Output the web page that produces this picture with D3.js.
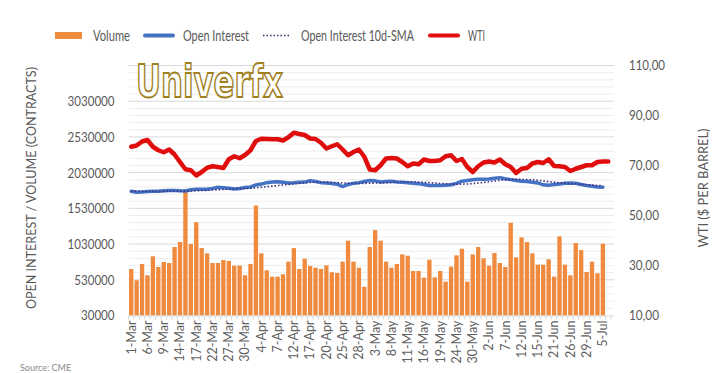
<!DOCTYPE html>
<html>
<head>
<meta charset="utf-8">
<script src="https://cdn.jsdelivr.net/npm/d3@7"></script>
<style>
  html, body { margin: 0; padding: 0; background: #fff; }
  svg { display: block; }
  text { font-family: Lato, "Liberation Sans", sans-serif; fill: #595959; }
</style>
</head>
<body>
<div id="chart"></div>
<script>
// trading days shown on the category axis
const categories = [
  "1-Mar","2-Mar","3-Mar","6-Mar","7-Mar","8-Mar","9-Mar","10-Mar","13-Mar","14-Mar","15-Mar","16-Mar","17-Mar",
  "20-Mar","21-Mar","22-Mar","23-Mar","24-Mar","27-Mar","28-Mar","29-Mar","30-Mar","31-Mar",
  "3-Apr","4-Apr","5-Apr","6-Apr","7-Apr","10-Apr","11-Apr","12-Apr","13-Apr","14-Apr","17-Apr","18-Apr",
  "19-Apr","20-Apr","21-Apr","24-Apr","25-Apr","26-Apr","27-Apr","28-Apr",
  "1-May","2-May","3-May","4-May","5-May","8-May","9-May","10-May","11-May","12-May","15-May","16-May",
  "17-May","18-May","19-May","22-May","23-May","24-May","25-May","26-May","30-May","31-May",
  "1-Jun","2-Jun","5-Jun","6-Jun","7-Jun","8-Jun","9-Jun","12-Jun","13-Jun","14-Jun","15-Jun","16-Jun",
  "20-Jun","21-Jun","22-Jun","23-Jun","26-Jun","27-Jun","28-Jun","29-Jun","30-Jun",
  "3-Jul","5-Jul","6-Jul"
]
const volume = [
  681000,523000,751000,593000,858000,709000,779000,765000,988000,1058000,1760000,1030000,1337000,
  974000,900000,765000,765000,807000,793000,728000,728000,593000,751000,
  1570000,900000,662000,574000,574000,607000,784000,974000,681000,825000,723000,700000,
  681000,732000,635000,625000,784000,1077000,784000,700000,
  430000,988000,1225000,1077000,784000,700000,751000,886000,867000,653000,653000,560000,
  811000,565000,653000,504000,714000,872000,965000,504000,886000,988000,
  830000,728000,904000,765000,709000,1328000,844000,1123000,1058000,900000,742000,742000,
  816000,574000,1137000,742000,593000,1044000,946000,639000,784000,
  621000,1035000
]
const openInterest = [
  1770000,1756000,1760000,1765000,1768000,1770000,1775000,1780000,1780000,1775000,1772000,1790000,1797000,
  1797000,1797000,1810000,1825000,1818000,1812000,1800000,1808000,1822000,1830000,
  1858000,1870000,1890000,1900000,1902000,1895000,1886000,1888000,1895000,1898000,1918000,1905000,
  1890000,1886000,1878000,1868000,1835000,1865000,1880000,1890000,
  1905000,1920000,1915000,1900000,1905000,1908000,1900000,1895000,1888000,1882000,1876000,1865000,
  1850000,1850000,1849000,1855000,1860000,1880000,1910000,1920000,1930000,1937000,
  1937000,1940000,1950000,1960000,1945000,1932000,1920000,1909000,1905000,1895000,1886000,1860000,
  1855000,1863000,1870000,1880000,1885000,1881000,1865000,1850000,1839000,
  1828000,1825000
]
const openInterestSma = [
  1770000,1768000,1766000,1765000,1765000,1766000,1767000,1769000,1770000,1770000,1770000,1772000,1776000,
  1779000,1782000,1786000,1791000,1795000,1799000,1802000,1806000,1809000,1812000,
  1818000,1825000,1833000,1841000,1850000,1858000,1866000,1873000,1880000,1887000,1893000,1897000,
  1896000,1895000,1893000,1890000,1885000,1882000,1880000,1879000,
  1880000,1882000,1884000,1886000,1889000,1893000,1900000,1903000,1903000,1903000,1900000,1896000,
  1890000,1885000,1879000,1874000,1869000,1867000,1869000,1872000,1877000,1884000,
  1893000,1902000,1912000,1923000,1930000,1935000,1936000,1935000,1933000,1929000,1923000,1914000,
  1904000,1895000,1888000,1880000,1876000,1874000,1866000,1860000,1855000,
  1850000,1846000
]
const wti = [
  77.5,78.0,79.6,80.2,77.5,76.1,75.3,76.4,74.4,71.4,68.5,68.1,66.0,
  67.4,69.1,69.7,69.4,69.0,72.5,73.7,72.9,74.2,76.1,
  79.8,80.7,80.6,80.5,80.5,80.0,81.3,83.1,82.6,82.2,80.8,80.6,
  79.1,76.8,77.7,78.5,76.4,74.1,75.4,76.4,
  73.5,68.4,68.1,70.1,72.8,73.0,72.8,71.4,69.7,70.8,70.5,72.4,
  71.8,71.8,72.1,73.7,74.1,71.8,72.6,69.4,67.4,69.7,
  71.2,71.6,71.2,72.4,70.5,69.4,67.0,68.7,69.0,70.8,71.4,71.0,
  72.5,69.8,69.7,69.4,67.8,68.7,69.4,70.1,70.1,
  71.4,71.6,71.6
]
const leftTicks = [30000, 530000, 1030000, 1530000, 2030000, 2530000, 3030000]
const rightTicks = [10, 30, 50, 70, 90, 110]

const W = 720, H = 373
const plot = { left: 128.5, right: 611, top: 65.5, bottom: 315.5 }

const svg = d3.select("#chart")
  .append("svg")
  .attr("width", W)
  .attr("height", H)

const x = d3.scaleBand()
  .domain(categories)
  .range([plot.left, plot.right])
  .paddingInner(0.2)
  .paddingOuter(0.1)
const yLeft = d3.scaleLinear().domain([30000, 3530000]).range([plot.bottom, plot.top])
const yRight = d3.scaleLinear().domain([10, 110]).range([plot.bottom, plot.top])
const cx = d => x(d) + x.bandwidth() / 2

/* GRID */
const grid = svg.append("g")
grid.selectAll("line.minor")
  .data(d3.range(130000, 3530001, 100000).filter(v => (v - 30000) % 500000 !== 0))
  .join("line")
  .attr("x1", plot.left).attr("x2", plot.right + 3)
  .attr("y1", d => yLeft(d)).attr("y2", d => yLeft(d))
  .attr("stroke", "#eeeeee").attr("stroke-width", 1)
grid.selectAll("line.major")
  .data(leftTicks.slice(1).concat([3530000]))
  .join("line")
  .attr("x1", plot.left).attr("x2", plot.right + 3)
  .attr("y1", d => yLeft(d)).attr("y2", d => yLeft(d))
  .attr("stroke", "#d9d9d9").attr("stroke-width", 1)

/* WATERMARK */
svg.append("text")
  .attr("transform", "translate(136, 97) scale(1, 1.18)")
  .attr("textLength", 147).attr("lengthAdjust", "spacingAndGlyphs")
  .style("font-family", "'DejaVu Sans', sans-serif")
  .style("font-size", "38px")
  .style("font-weight", "bold")
  .style("fill", "#ffffff")
  .style("stroke", "#a0801c")
  .style("stroke-width", 1.6)
  .text("Univerfx")

/* BARS */
svg.append("g")
  .selectAll("rect")
  .data(volume)
  .join("rect")
  .attr("x", (d, i) => x(categories[i]))
  .attr("y", d => yLeft(d))
  .attr("width", x.bandwidth())
  .attr("height", d => plot.bottom - yLeft(d))
  .attr("fill", "#ef8a3e")

/* X AXIS */
const xAxis = svg.append("g")
  .attr("transform", `translate(0, ${plot.bottom})`)
  .call(d3.axisBottom(x)
    .tickValues(categories.filter((d, i) => i % 3 === 0))
    .tickSize(0)
    .tickPadding(0))
xAxis.select(".domain").attr("stroke", "#d9d9d9").attr("d", `M${plot.left},0.5H${plot.right + 3}`)
xAxis.selectAll(".tick text")
  .attr("transform", "rotate(-90)")
  .attr("x", -5).attr("y", 0).attr("dy", "0.35em")
  .style("text-anchor", "end")
  .style("font-size", "12.5px")
  .style("fill", "#5f5f5f")
svg.append("g")
  .selectAll("line")
  .data(categories.concat(["_end"]))
  .join("line")
  .attr("x1", (d, i) => plot.left + 0.6 + i * x.step() - x.step() * 0.1)
  .attr("x2", (d, i) => plot.left + 0.6 + i * x.step() - x.step() * 0.1)
  .attr("y1", plot.bottom).attr("y2", plot.bottom + 4)
  .attr("stroke", "#d9d9d9")

/* Y AXES */
const yl = svg.append("g")
  .attr("transform", `translate(${plot.left - 11}, 0)`)
  .call(d3.axisLeft(yLeft).tickValues(leftTicks).tickSize(0).tickFormat(d => d))
yl.select(".domain").remove()
yl.selectAll(".tick text")
  .style("font-size", "14px").style("fill", "#595959")
  .attr("textLength", d => String(d).length * 6.7).attr("lengthAdjust", "spacingAndGlyphs")

const yr = svg.append("g")
  .attr("transform", `translate(${plot.right + 18}, 0)`)
  .call(d3.axisRight(yRight).tickValues(rightTicks).tickSize(0)
    .tickFormat(d => d3.format(".2f")(d).replace(".", ",")))
yr.select(".domain").remove()
yr.selectAll(".tick text")
  .style("font-size", "14px").style("fill", "#595959")
  .attr("x", 0)
  .attr("textLength", d => d >= 100 ? 36 : 30).attr("lengthAdjust", "spacingAndGlyphs")

svg.append("text")
  .attr("transform", `translate(31, 188) rotate(-90)`)
  .attr("textLength", 242).attr("lengthAdjust", "spacingAndGlyphs")
  .attr("text-anchor", "middle")
  .attr("dy", "0.35em")
  .style("font-size", "14px")
  .text("OPEN INTEREST / VOLUME (CONTRACTS)")
svg.append("text")
  .attr("transform", `translate(703, 188) rotate(-90)`)
  .attr("textLength", 119).attr("lengthAdjust", "spacingAndGlyphs")
  .attr("text-anchor", "middle")
  .attr("dy", "0.35em")
  .style("font-size", "14px")
  .text("WTI ($ PER BARREL)")

/* LINES */
function addLine(values, scale, color, width, dash) {
  const line = d3.line()
    .x((d, i) => cx(categories[i]))
    .y(d => scale(d))
  svg.append("path")
    .datum(values)
    .attr("fill", "none")
    .attr("stroke", color)
    .attr("stroke-width", width)
    .attr("stroke-linejoin", "round")
    .attr("stroke-linecap", dash ? "butt" : "round")
    .attr("stroke-dasharray", dash || null)
    .attr("d", line)
}
addLine(openInterest, yLeft, "#4472c4", 3.5)
addLine(openInterestSma, yLeft, "#3b2f7a", 1.6, "1.5,2")
addLine(wti, yRight, "#e00d0d", 4.5)

/* LEGEND */
const legend = svg.append("g").attr("transform", "translate(0, 35.5)")
const items = [
  { label: "Volume", x: 55, w: 37, type: "rect", color: "#ef8a3e" },
  { label: "Open Interest", x: 145, w: 66, type: "line", color: "#4472c4" },
  { label: "Open Interest 10d-SMA", x: 263, w: 113, type: "dot", color: "#3b2f7a" },
  { label: "WTI", x: 430, w: 17, type: "line", color: "#e00d0d" }
]
items.forEach(it => {
  if (it.type === "rect") {
    legend.append("rect").attr("x", it.x).attr("y", -3.5).attr("width", 27).attr("height", 7).attr("fill", it.color)
  } else {
    legend.append("line")
      .attr("x1", it.x).attr("x2", it.x + 28)
      .attr("stroke", it.color)
      .attr("stroke-width", it.type === "dot" ? 1.5 : 4)
      .attr("stroke-linecap", it.type === "dot" ? "butt" : "round")
      .attr("stroke-dasharray", it.type === "dot" ? "1.5,2" : null)
  }
  legend.append("text")
    .attr("x", it.x + 38).attr("y", 0)
    .attr("dy", "0.35em")
    .attr("textLength", it.w).attr("lengthAdjust", "spacingAndGlyphs")
    .style("font-size", "14.5px")
    .text(it.label)
})

/* SOURCE */
svg.append("text")
  .attr("x", 20).attr("y", 371)
  .style("font-size", "9px")
  .style("fill", "#8a8a8a")
  .text("Source: CME")
</script>
</body>
</html>
